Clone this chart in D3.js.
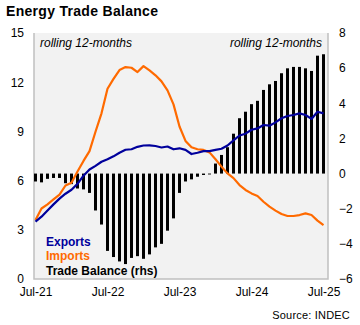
<!DOCTYPE html>
<html lang="en">
<head>
  <meta charset="UTF-8">
  <title>Energy Trade Balance</title>
  <script src="https://d3js.org/d3.v7.min.js"></script>
  <style>
    html, body {
      margin: 0;
      padding: 0;
      background: #fff;
    }
    svg text {
      font-family: Arial, "Liberation Sans", sans-serif;
      fill: #000;
    }
    .plot-bg {
      fill: #f2f2f2;
    }
    .frame {
      stroke: #c0c0c0;
      stroke-width: 1.5;
      fill: none;
    }
    .line-exports, .line-imports {
      fill: none;
      stroke-width: 2.2;
      stroke-linejoin: round;
    }
    .line-exports { stroke: #00009c; }
    .line-imports { stroke: #ff6a00; }
    .bar { fill: #000; }
    .axis text { font-size: 12px; }
  </style>
</head>
<body>
  <div id="container"></div>

  <script>
    // rolling 12-month values, Jul-21 .. Jul-25
    const exportsData = [3.5, 3.8, 4.18, 4.55, 4.9, 5.2, 5.44, 5.8, 6.3, 6.68, 6.9, 7.15, 7.3, 7.48, 7.7, 7.88,
      7.91, 8.06, 8.14, 8.15, 8.11, 8.02, 8.08, 7.91, 7.97, 7.87, 7.62, 7.7, 7.8, 7.8, 7.87, 7.94,
      8.14, 8.45, 8.75, 8.86, 9.1, 9.18, 9.39, 9.35, 9.55, 9.8, 9.94, 10.0, 10.1, 10.0, 9.76, 10.2, 10.1];
    const importsData = [3.6, 4.3, 4.55, 4.85, 5.14, 5.7, 5.87, 6.55, 7.2, 7.8, 8.98, 10.1, 11.6, 12.2, 12.74, 12.92,
      12.88, 12.62, 12.98, 12.72, 12.42, 12.05, 11.5, 10.65, 9.3, 8.42, 8.03, 7.91, 7.87, 7.72, 7.3, 6.85,
      6.44, 6.15, 5.73, 5.43, 5.22, 5.06, 4.71, 4.41, 4.17, 3.96, 3.84, 3.84, 3.9, 4.0, 3.9, 3.56, 3.29];
    const balanceData = [-0.45, -0.5, -0.3, -0.25, -0.25, -0.55, -0.6, -0.85, -0.9, -1.1, -2.1, -2.9, -4.4, -4.75, -5.0, -5.15,
      -4.8, -4.7, -4.85, -4.6, -4.2, -4.0, -3.25, -2.55, -1.1, -0.45, -0.33, -0.18, -0.08, -0.05, 0.57, 1.06,
      1.5, 2.27, 3.15, 3.52, 3.95, 4.14, 4.76, 5.08, 5.27, 5.71, 5.99, 6.07, 6.07, 5.99, 5.84, 6.71, 6.79];

    const fmt = d3.timeFormat('%b-%y');
    const months = d3.timeMonths(new Date(2021, 6, 1), new Date(2025, 7, 1)).map(fmt);
    const xTickLabels = ['Jul-21', 'Jul-22', 'Jul-23', 'Jul-24', 'Jul-25'];
    const leftTicks = [0, 3, 6, 9, 12, 15];
    const rightTicks = [-6, -4, -2, 0, 2, 4, 6, 8];

    const width = 360;
    const height = 325;
    const plot = { left: 34, right: 328, top: 33, bottom: 279 };

    const svg = d3.select('#container').append('svg')
      .attr('width', width).attr('height', height);

    // scales
    const x = d3.scalePoint().domain(months).range([35.5, 323.5]);
    const yLeft = d3.scaleLinear().domain([0, 15]).range([plot.bottom, plot.top]);
    const yRight = d3.scaleLinear().domain([-6, 8]).range([plot.bottom, plot.top]);

    // title
    svg.append('text')
      .attr('x', 6).attr('y', 16)
      .style('font-size', '14px').style('font-weight', 'bold')
      .style('letter-spacing', '0.3px')
      .text('Energy Trade Balance');

    // plot background + frame
    svg.append('rect').attr('class', 'plot-bg')
      .attr('x', plot.left).attr('y', plot.top)
      .attr('width', plot.right - plot.left).attr('height', plot.bottom - plot.top);
    svg.append('path').attr('class', 'frame')
      .attr('d', `M${plot.left},${plot.top}V${plot.bottom}H${plot.right}V${plot.top}`);

    // trade balance bars (right axis)
    const barW = 3;
    svg.append('g').selectAll('rect')
      .data(balanceData)
      .join('rect')
      .attr('class', 'bar')
      .attr('x', (d, i) => x(months[i]) - barW / 2)
      .attr('width', barW)
      .attr('y', d => Math.min(yRight(d), yRight(0)))
      .attr('height', d => Math.abs(yRight(d) - yRight(0)));

    // lines (left axis)
    const line = d3.line()
      .x((d, i) => x(months[i]))
      .y(d => yLeft(d));

    svg.append('path').datum(importsData).attr('class', 'line-imports').attr('d', line);
    svg.append('path').datum(exportsData).attr('class', 'line-exports').attr('d', line);

    // axes
    svg.append('g').attr('class', 'axis')
      .attr('transform', `translate(${plot.left},0)`)
      .call(d3.axisLeft(yLeft).tickValues(leftTicks).tickSize(0).tickPadding(10))
      .call(g => g.select('.domain').remove());

    svg.append('g').attr('class', 'axis')
      .attr('transform', `translate(${plot.right},0)`)
      .call(d3.axisRight(yRight).tickValues(rightTicks).tickSize(0).tickPadding(11))
      .call(g => g.select('.domain').remove());

    svg.append('g').attr('class', 'axis')
      .attr('transform', `translate(0,${plot.bottom})`)
      .call(d3.axisBottom(x).tickValues(xTickLabels).tickSize(0).tickPadding(8))
      .call(g => g.select('.domain').remove());

    svg.selectAll('.axis text').attr('fill', '#000').style('font-family', 'Arial, "Liberation Sans", sans-serif');

    // annotations
    svg.append('text')
      .attr('x', 40).attr('y', 47)
      .style('font-size', '12px').style('font-style', 'italic')
      .text('rolling 12-months');
    svg.append('text')
      .attr('x', 322).attr('y', 47)
      .attr('text-anchor', 'end')
      .style('font-size', '12px').style('font-style', 'italic')
      .text('rolling 12-months');

    // legend
    const legend = [
      { label: 'Exports', color: '#00009c', y: 246 },
      { label: 'Imports', color: '#ff6a00', y: 260 },
      { label: 'Trade Balance (rhs)', color: '#000', y: 275 }
    ];
    svg.append('g').selectAll('text')
      .data(legend)
      .join('text')
      .attr('x', 46).attr('y', d => d.y)
      .style('font-size', '12px').style('font-weight', 'bold')
      .style('fill', d => d.color)
      .text(d => d.label);

    // source
    svg.append('text')
      .attr('x', 350).attr('y', 319)
      .attr('text-anchor', 'end')
      .style('font-size', '11px')
      .style('letter-spacing', '0.2px')
      .text('Source: INDEC');
  </script>
</body>
</html>
